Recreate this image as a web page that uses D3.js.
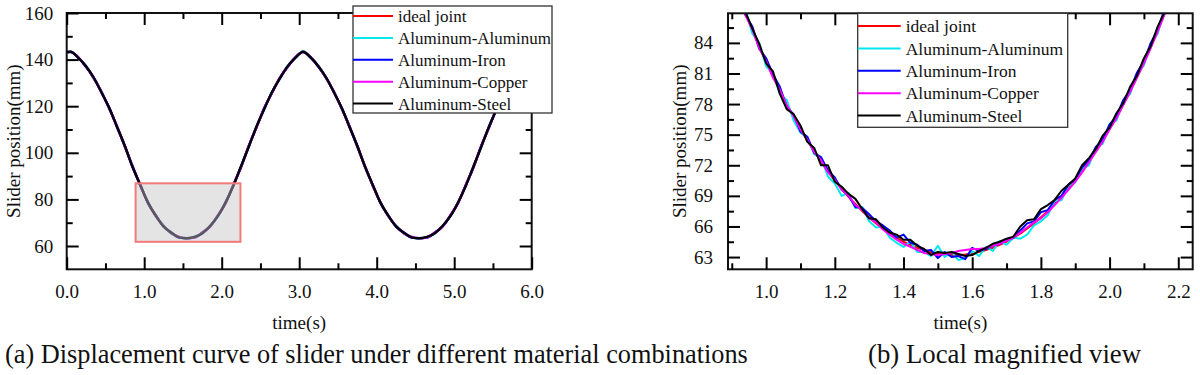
<!DOCTYPE html>
<html>
<head>
<meta charset="utf-8">
<script src="https://cdn.jsdelivr.net/npm/d3@7"></script>
<style>
body { margin: 0; background: #fff; }
svg text { font-family: "Liberation Serif", "Times New Roman", serif; }
</style>
</head>
<body>
<script>
var seriesNames = ["ideal joint", "Aluminum-Aluminum", "Aluminum-Iron", "Aluminum-Copper", "Aluminum-Steel"];
var seriesColors = ["#ff0000", "#00e8ee", "#0000ff", "#ff00ff", "#000000"];

// full run, 0 - 6 s
var timeFull = [0, 0.05, 0.15, 0.25, 0.35, 0.45, 0.55, 0.65, 0.75, 0.85, 0.95,
    1.05, 1.15, 1.25, 1.35, 1.45, 1.55, 1.65, 1.75, 1.85, 1.95,
    2.05, 2.15, 2.25, 2.35, 2.45, 2.55, 2.65, 2.75, 2.85, 2.95,
    3.05, 3.15, 3.25, 3.35, 3.45, 3.55, 3.65, 3.75, 3.85, 3.95,
    4.05, 4.15, 4.25, 4.35, 4.45, 4.55, 4.65, 4.75, 4.85, 4.95,
    5.05, 5.15, 5.25, 5.35, 5.45, 5.55, 5.65, 5.75, 5.85, 5.95, 6.0];
var idealFull = [143.2,143.4,140.8,137.0,132.0,126.0,119.0,111.2,102.8,94.1,86.0,
    78.6,72.9,68.5,65.6,63.8,63.2,63.8,65.6,68.5,72.9,
    78.6,86.0,94.1,102.8,111.2,119.0,126.0,132.0,137.0,140.8,
    143.4,140.8,137.0,132.0,126.0,119.0,111.2,102.8,94.1,86.0,
    78.6,72.9,68.5,65.6,63.8,63.2,63.8,65.6,68.5,72.9,
    78.6,86.0,94.1,102.8,111.2,119.0,126.0,132.0,137.0,140.8,142.1];
var alAlFull = [143.4,143.5,140.6,137.3,131.8,126.3,118.8,111.5,102.6,94.4,85.8,
    78.9,72.6,68.8,65.3,63.9,63.0,64.0,65.3,68.7,72.6,
    78.9,85.8,94.4,102.6,111.5,118.7,126.3,131.7,137.3,140.6,
    143.6,140.6,137.3,131.8,126.3,118.8,111.4,102.6,94.3,85.8,
    78.8,72.7,68.8,65.4,64.0,63.1,63.9,65.4,68.7,72.7,
    78.8,85.8,94.4,102.5,111.5,118.8,126.2,131.8,137.2,140.6,142.3];
var alFeFull = [143.1,143.2,141.0,136.8,132.3,125.8,119.3,110.9,103.1,93.8,86.3,
    78.3,73.2,68.3,65.8,63.6,63.4,63.6,65.8,68.3,73.1,
    78.4,86.2,93.9,103.0,111.0,119.3,125.8,132.2,136.8,141.0,
    143.2,141.0,136.8,132.2,125.8,119.2,111.0,103.0,93.9,86.2,
    78.4,73.1,68.3,65.8,63.6,63.4,63.6,65.8,68.3,73.1,
    78.4,86.2,93.8,103.1,110.9,119.2,125.8,132.2,136.8,141.0,141.9];
var alCuFull = [143.3,143.3,140.9,137.1,131.9,126.1,118.9,111.3,102.7,94.2,85.9,
    78.7,72.8,68.6,65.5,63.9,63.3,63.7,65.7,68.4,73.0,
    78.5,86.1,94.0,102.9,111.1,119.1,125.9,132.1,136.9,140.9,
    143.3,140.9,137.1,131.9,126.1,118.9,111.3,102.7,94.2,85.9,
    78.7,72.8,68.6,65.5,63.9,63.3,63.7,65.7,68.4,73.0,
    78.5,86.1,94.0,102.9,111.1,119.1,125.9,132.1,136.9,140.9,142.2];
var alStFull = [143.2,143.4,140.7,137.1,132.1,125.9,119.1,111.1,102.9,94.0,86.1,
    78.5,73.0,68.4,65.7,63.7,63.3,63.9,65.5,68.6,72.8,
    78.7,85.9,94.2,102.7,111.3,118.9,126.1,131.9,137.1,140.7,
    143.4,140.8,137.0,132.1,125.9,119.1,111.1,102.9,94.0,86.1,
    78.5,73.0,68.4,65.7,63.7,63.3,63.9,65.5,68.6,72.8,
    78.7,85.9,94.2,102.7,111.3,118.9,126.1,131.9,137.1,140.7,142.0];

// magnified window
var timeZoom = [0.90,0.92,0.94,0.96,0.98,1.00,1.02,1.04,1.06,1.08,
    1.10,1.12,1.14,1.16,1.18,1.20,1.22,1.24,1.26,1.28,
    1.30,1.32,1.34,1.36,1.38,1.40,1.42,1.44,1.46,1.48,
    1.50,1.52,1.54,1.56,1.58,1.60,1.62,1.64,1.66,1.68,
    1.70,1.72,1.74,1.76,1.78,1.80,1.82,1.84,1.86,1.88,
    1.90,1.92,1.94,1.96,1.98,2.00,2.02,2.04,2.06,2.08,
    2.10,2.12,2.14,2.16,2.18,2.20,2.22];
var idealZoom = [90.4,88.6,86.9,85.2,83.6,82.1,80.7,79.3,78.0,76.7,
    75.6,74.4,73.4,72.4,71.4,70.5,69.7,68.9,68.2,67.5,
    66.9,66.3,65.8,65.3,64.9,64.5,64.2,63.9,63.7,63.5,
    63.35,63.25,63.2,63.2,63.25,63.35,63.5,63.7,63.9,64.2,
    64.5,64.9,65.3,65.8,66.3,66.9,67.5,68.2,68.9,69.7,
    70.5,71.4,72.4,73.4,74.4,75.6,76.7,78.0,79.3,80.7,
    82.1,83.6,85.2,86.9,88.6,90.4,92.3];
var alAlZoom = [90.7,88.3,87.3,84.9,84.0,81.7,81.0,79.0,78.4,76.4,
    75.2,74.7,73.1,72.7,70.9,70.2,69.0,69.3,67.8,67.9,
    66.5,65.9,66.0,64.9,64.4,64.0,64.5,63.5,63.5,63.1,
    64.1,63.0,63.5,62.7,62.9,63.6,63.1,64.0,63.6,64.6,
    64.2,64.9,64.8,65.2,66.1,66.5,67.1,68.5,68.6,70.0,
    70.3,71.7,72.0,73.8,74.1,76.0,76.4,78.3,79.0,81.0,
    81.8,83.9,84.9,87.2,88.3,90.7,92.0];
var alFeZoom = [90.1,89.0,86.7,85.6,83.4,82.5,80.9,79.7,77.7,77.0,
    75.3,74.8,73.2,72.8,71.5,70.8,69.6,69.0,67.9,67.8,
    67.2,66.5,66.1,65.6,64.9,65.2,64.4,64.2,63.6,63.7,
    62.9,63.5,63.0,63.1,62.8,63.9,63.6,63.8,64.1,64.3,
    64.7,64.9,65.6,66.3,66.5,67.4,67.6,68.6,69.0,70.1,
    70.6,71.8,72.5,73.8,74.5,76.0,76.8,78.4,79.4,81.1,
    82.2,84.0,85.3,87.3,88.7,90.8,92.4];
var alCuZoom = [90.3,88.7,86.7,85.3,83.5,82.2,80.6,79.4,77.9,76.8,
    75.5,74.5,73.3,72.5,71.3,70.6,69.6,69.0,68.1,67.6,
    66.8,66.4,65.7,65.2,64.7,64.3,64.0,63.7,63.4,63.3,
    63.2,63.3,63.4,63.6,63.7,63.8,63.8,63.9,64.1,64.3,
    64.6,64.9,65.4,65.9,66.4,66.8,67.4,68.1,68.8,69.6,
    70.4,71.3,72.3,73.3,74.3,75.5,76.6,77.9,79.2,80.6,
    82.0,83.5,85.1,86.8,88.5,90.3,92.2];
var alStZoom = [90.1,88.8,87.0,85.4,83.9,82.0,81.2,79.0,77.5,77.0,
    75.9,74.3,73.7,72.0,72.0,70.4,69.9,69.2,68.7,67.7,
    66.8,66.7,65.9,65.4,65.2,64.7,64.7,64.1,63.8,63.2,
    63.5,63.4,63.5,63.3,63.1,63.2,63.6,63.9,64.3,64.5,
    64.8,65.0,66.0,66.6,66.7,67.7,68.1,68.6,69.5,70.1,
    70.7,72.0,72.7,73.6,74.9,75.7,77.1,78.1,79.7,80.8,
    82.5,83.7,85.6,87.0,89.0,90.5,92.5];

// zoom window (data units), shown as box in (a) and as the axes of (b)
var windowX = [0.889, 2.242];
var windowY = [61.8, 86.9];

var xTicksFull = [0, 1, 2, 3, 4, 5, 6];
var xMinorFull = [0.5, 1.5, 2.5, 3.5, 4.5, 5.5];
var yTicksFull = [60, 80, 100, 120, 140, 160];
var yMinorFull = [70, 90, 110, 130, 150];
var xTicksZoom = [1.0, 1.2, 1.4, 1.6, 1.8, 2.0, 2.2];
var xMinorZoom = [0.9, 1.1, 1.3, 1.5, 1.7, 1.9, 2.1];
var yTicksZoom = [63, 66, 69, 72, 75, 78, 81, 84];
var yMinorZoom = [64.5, 67.5, 70.5, 73.5, 76.5, 79.5, 82.5, 85.5];

var svg = d3.select("body").append("svg")
    .attr("width", 1200)
    .attr("height", 375);

svg.append("rect").attr("width", 1200).attr("height", 375).attr("fill", "#fff");

function drawPanel(p) {
    var x = d3.scaleLinear().domain(p.xDomain).range([p.left, p.right]);
    var y = d3.scaleLinear().domain(p.yDomain).range([p.bottom, p.top]);
    var g = svg.append("g");

    g.append("clipPath").attr("id", "clip-" + p.id)
        .append("rect")
        .attr("x", p.left).attr("y", p.top)
        .attr("width", p.right - p.left).attr("height", p.bottom - p.top);

    var line = d3.line()
        .x(function(d, i){ return x(p.times[i]); })
        .y(function(d){ return y(d); })
        .curve(p.curve);

    var lines = g.append("g").attr("clip-path", "url(#clip-" + p.id + ")");
    p.series.forEach(function(s, i){
        lines.append("path")
            .datum(s)
            .attr("d", line)
            .attr("fill", "none")
            .attr("stroke", seriesColors[i])
            .attr("stroke-width", p.lineWidth)
            .attr("stroke-linejoin", "round");
    });

    if (p.box) {
        g.append("rect")
            .attr("x", x(p.box.x[0]))
            .attr("y", y(p.box.y[1]))
            .attr("width", x(p.box.x[1]) - x(p.box.x[0]))
            .attr("height", y(p.box.y[0]) - y(p.box.y[1]))
            .attr("fill", "#c4c4c4")
            .attr("fill-opacity", 0.45)
            .attr("stroke", "#f27a7a")
            .attr("stroke-width", 2);
    }

    g.append("rect")
        .attr("x", p.left).attr("y", p.top)
        .attr("width", p.right - p.left).attr("height", p.bottom - p.top)
        .attr("fill", "none")
        .attr("stroke", "#111")
        .attr("stroke-width", 2);

    // labelled major ticks and bare minor ticks, all pointing inward
    function addAxis(axisFn, scale, vals, size, fmt, tr, pad) {
        var a = axisFn(scale).tickValues(vals).tickSizeInner(-size).tickSizeOuter(0)
            .tickPadding(pad || 0)
            .tickFormat(fmt ? d3.format(fmt) : "");
        var ag = g.append("g")
            .attr("transform", tr)
            .call(a)
            .attr("color", "#000")
            .attr("font-family", "Liberation Serif, Times New Roman, serif")
            .attr("font-size", p.fontSize);
        ag.select(".domain").remove();
        ag.selectAll(".tick line").attr("stroke-width", 2);
        ag.selectAll(".tick text").attr("fill", "#111");
    }

    var bt = "translate(0," + p.bottom + ")";
    var tt = "translate(0," + p.top + ")";
    var lt = "translate(" + p.left + ",0)";
    var rt = "translate(" + p.right + ",0)";

    addAxis(d3.axisBottom, x, p.xTicks, 12, ".1f", bt, p.xPad);
    addAxis(d3.axisBottom, x, p.xMinor, 6, null, bt);
    addAxis(d3.axisTop, x, p.xTicks, 12, null, tt);
    addAxis(d3.axisTop, x, p.xMinor, 6, null, tt);
    addAxis(d3.axisLeft, y, p.yTicks, 12, "d", lt, p.yPad);
    addAxis(d3.axisLeft, y, p.yMinor, 6, null, lt);
    addAxis(d3.axisRight, y, p.yTicks, 12, null, rt);
    addAxis(d3.axisRight, y, p.yMinor, 6, null, rt);

    g.append("text")
        .text("time(s)")
        .attr("x", (p.left + p.right) / 2)
        .attr("y", p.xTitleY)
        .attr("text-anchor", "middle")
        .attr("font-size", 19)
        .attr("fill", "#111");

    g.append("text")
        .text("Slider position(mm)")
        .attr("transform", "translate(" + p.yTitleX + "," + (p.top + p.bottom) / 2 + ") rotate(-90)")
        .attr("text-anchor", "middle")
        .attr("font-size", 19)
        .attr("fill", "#111");

    var L = p.legend;
    var lg = g.append("g");
    lg.append("rect")
        .attr("x", L.x).attr("y", L.y)
        .attr("width", L.w).attr("height", L.h)
        .attr("fill", "#fff")
        .attr("stroke", "#333")
        .attr("stroke-width", 1.3);
    seriesNames.forEach(function(name, i){
        var yy = L.row0 + i * L.rowStep;
        lg.append("line")
            .attr("x1", L.x).attr("x2", L.x + L.lineLen)
            .attr("y1", yy).attr("y2", yy)
            .attr("stroke", seriesColors[i])
            .attr("stroke-width", 2);
        lg.append("text")
            .text(name)
            .attr("x", L.x + L.textOff)
            .attr("y", yy)
            .attr("dy", "0.35em")
            .attr("font-size", L.fontSize)
            .attr("fill", "#111");
    });
}

drawPanel({
    id: "a",
    left: 66.7, right: 531.7, top: 13, bottom: 269.3,
    xDomain: [0, 6], yDomain: [50, 160],
    times: timeFull,
    series: [idealFull, alAlFull, alFeFull, alCuFull, alStFull],
    curve: d3.curveMonotoneX,
    lineWidth: 2.4,
    xTicks: xTicksFull, xMinor: xMinorFull,
    yTicks: yTicksFull, yMinor: yMinorFull,
    xPad: 15, yPad: 13.5, fontSize: 19,
    xTitleY: 329, yTitleX: 20,
    box: {x: windowX, y: windowY},
    legend: {x: 353, y: 6, w: 199, h: 107, row0: 16, rowStep: 21.9, lineLen: 40, textOff: 45, fontSize: 17}
});

drawPanel({
    id: "b",
    left: 728, right: 1192.7, top: 13.3, bottom: 269.3,
    xDomain: windowX, yDomain: windowY,
    times: timeZoom,
    series: [idealZoom, alAlZoom, alFeZoom, alCuZoom, alStZoom],
    curve: d3.curveLinear,
    lineWidth: 2,
    xTicks: xTicksZoom, xMinor: xMinorZoom,
    yTicks: yTicksZoom, yMinor: yMinorZoom,
    xPad: 15, yPad: 15, fontSize: 19,
    xTitleY: 329, yTitleX: 686,
    legend: {x: 857.7, y: 13.3, w: 210, h: 114, row0: 26, rowStep: 22.4, lineLen: 43, textOff: 48, fontSize: 17.5}
});

svg.append("text")
    .text("(a) Displacement curve of slider under different material combinations")
    .attr("x", 5).attr("y", 363)
    .attr("font-size", 26.3)
    .attr("fill", "#111");

svg.append("text")
    .text("(b) Local magnified view")
    .attr("x", 868).attr("y", 363)
    .attr("font-size", 26.8)
    .attr("fill", "#111");
</script>
</body>
</html>
